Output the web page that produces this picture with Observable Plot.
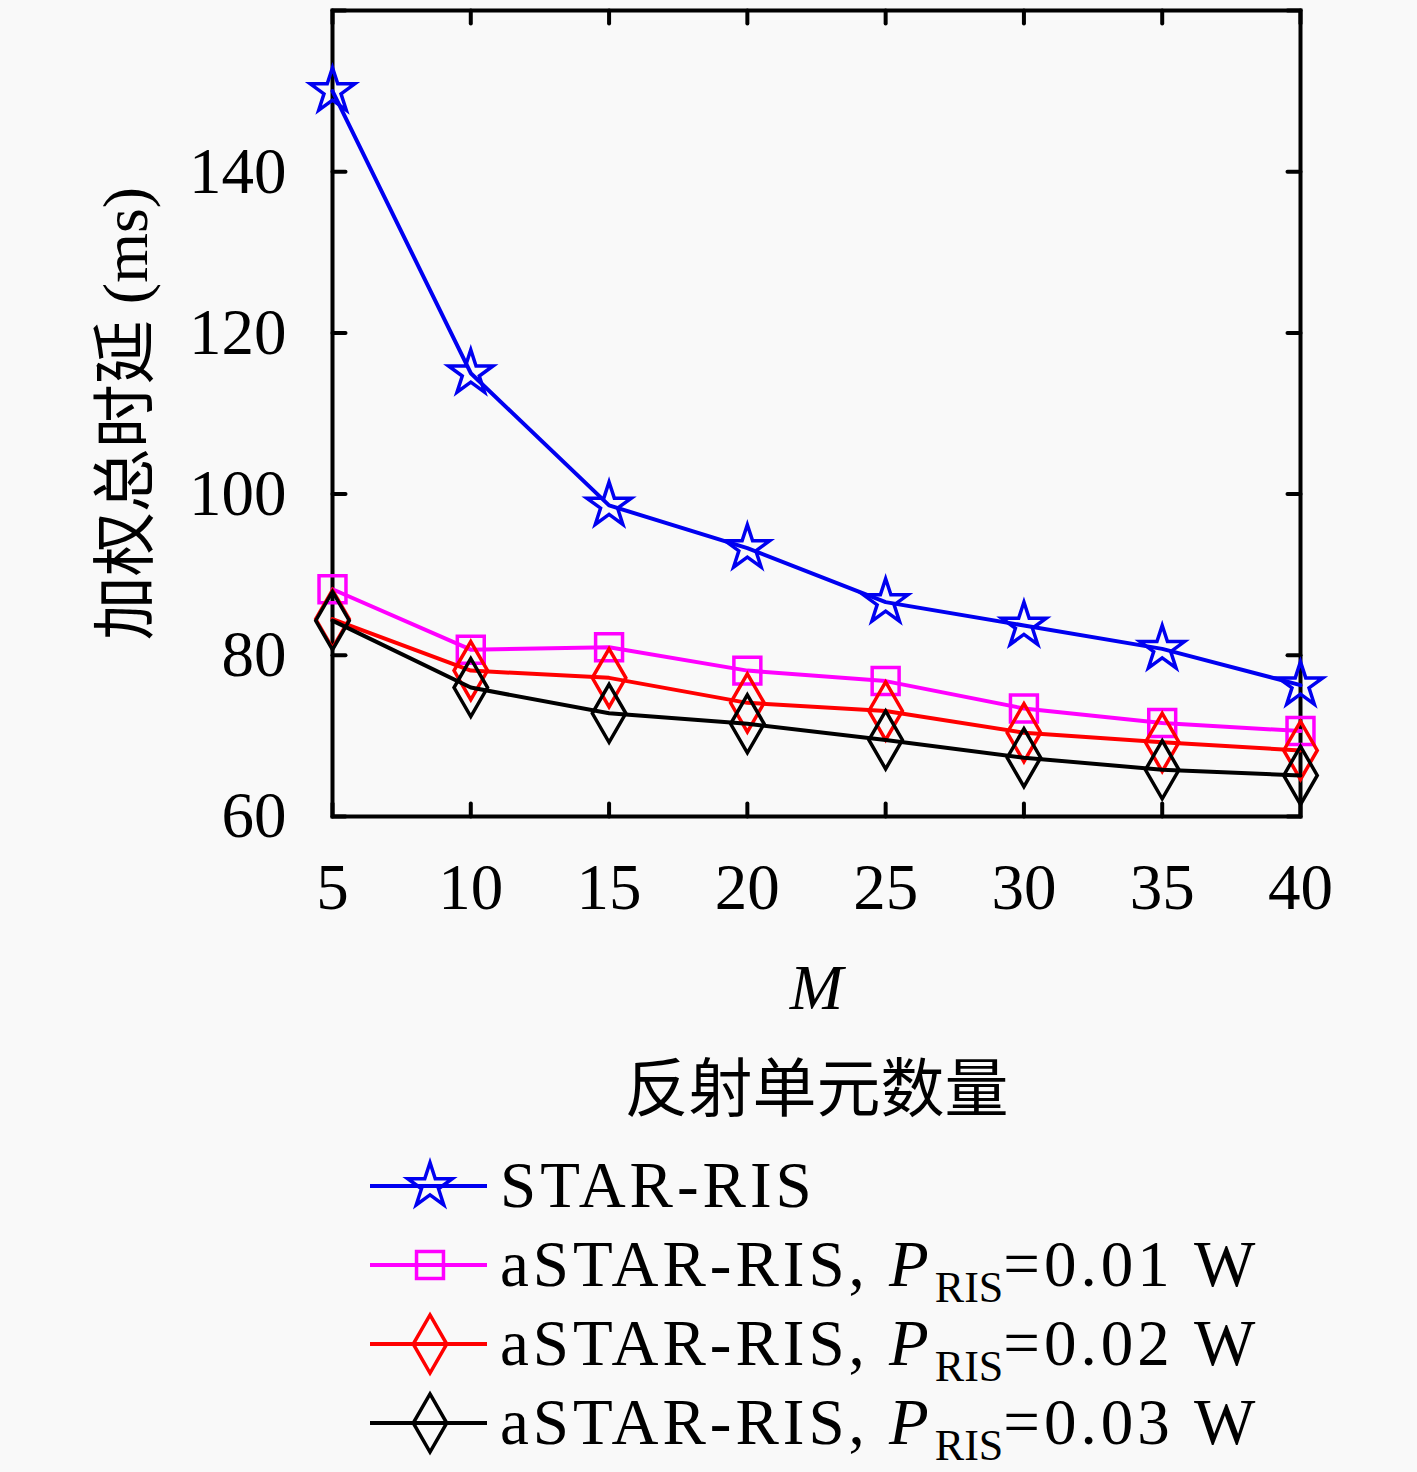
<!DOCTYPE html>
<html><head><meta charset="utf-8">
<script src="https://cdn.jsdelivr.net/npm/d3@7"></script>
<script src="https://cdn.jsdelivr.net/npm/@observablehq/plot@0.6"></script>
<style>
body{margin:0;background:#f9f9f9;}
#legend{font-family:"Liberation Serif",serif;font-size:65px;color:#000;padding-left:370px;margin-top:6px;letter-spacing:4px}
.row{display:flex;align-items:center;height:79px;white-space:nowrap}
.row svg{margin-right:13px;flex:none;overflow:visible}
.sub{font-size:44px;position:relative;top:16px;margin-left:2px;letter-spacing:0}
</style></head><body>
<div id="chart"></div><div id="legend"></div>
<script>
// ---- data ----
const M = [5, 10, 15, 20, 25, 30, 35, 40];
const starRIS  = [150, 115.0, 98.6, 93.3, 86.6, 83.7, 80.8, 76.3];
const aStar001 = [88.2, 80.7, 81.0, 78.1, 76.8, 73.4, 71.6, 70.6];
const aStar002 = [84.5, 78.1, 77.2, 74.1, 73.1, 70.4, 69.2, 68.2];
const aStar003 = [84.3, 76.0, 72.8, 71.5, 69.5, 67.3, 65.8, 65.1];
const seriesKeys = ["STAR-RIS", "P001", "P002", "P003"];
const seriesPower = [null, "0.01", "0.02", "0.03"];
const xTicks = [5, 10, 15, 20, 25, 30, 35, 40];
const yTicks = [60, 80, 100, 120, 140];
const yTickMarks = [60, 80, 100, 120, 140, 160];
const yLabel = "加权总时延 (ms)";
const xLabel = "M";
const xLabelCN = "反射单元数量";

// ---- styles ----
const colors = ["#0000f0", "#ff00ff", "#ff0000", "#000000"];
const symbols = ["star", "square", "diamond", "diamond"];
const radii = [14, 15.2, 17.6, 17.6];
const values = [starRIS, aStar001, aStar002, aStar003];

const W = 1417, H = 1140;
const mL = 332, mR = 117, mT = 10, plotBottom = 816;

const rows = [];
values.forEach((vals, s) => vals.forEach((v, i) => rows.push({series: s, M: M[i], v})));

const tickShape = {draw(context, l) { context.moveTo(0, 0); context.lineTo(0, -l); }};
const tickOpts = {length: 13, anchor: "start", shape: tickShape, stroke: "black", strokeWidth: 4};

const marks = [
  Plot.vector(yTickMarks, {...tickOpts, x: 5, y: d => d, rotate: 90}),
  Plot.vector(yTickMarks, {...tickOpts, x: 40, y: d => d, rotate: -90}),
  Plot.vector(xTicks, {...tickOpts, x: d => d, y: 60, rotate: 0}),
  Plot.vector(xTicks, {...tickOpts, x: d => d, y: 160, rotate: 180}),
  Plot.frame({stroke: "black", strokeWidth: 4}),
  Plot.axisY({ticks: yTicks, tickSize: 0, tickPadding: 46, fontSize: 65, label: null, fontFamily: "Liberation Serif"}),
  Plot.axisX({ticks: xTicks, tickSize: 0, tickPadding: 46, fontSize: 65, label: null, fontFamily: "Liberation Serif"}),
  Plot.text([xLabel], {frameAnchor: "bottom", lineAnchor: "middle", textAnchor: "middle", dy: 172, fontSize: 64, fontStyle: "italic", fontFamily: "Liberation Serif", text: d => d}),
  Plot.text([xLabelCN], {frameAnchor: "bottom", lineAnchor: "middle", textAnchor: "middle", dy: 274, fontSize: 64, fontFamily: "Noto Sans CJK SC", text: d => d}),
  Plot.text([yLabel], {frameAnchor: "left", lineAnchor: "middle", textAnchor: "middle", dx: -206, rotate: -90, fontSize: 64, fontFamily: "Liberation Serif, Noto Sans CJK SC", text: d => d})
];
values.forEach((vals, s) => {
  const data = rows.filter(r => r.series === s);
  marks.push(Plot.line(data, {x: "M", y: "v", stroke: colors[s], strokeWidth: 4}));
  marks.push(Plot.dot(data, {x: "M", y: "v", symbol: symbols[s], r: radii[s], stroke: colors[s], strokeWidth: 3.5, fill: "none"}));
});

const chart = Plot.plot({
  width: W, height: H,
  marginLeft: mL, marginRight: mR, marginTop: mT, marginBottom: H - plotBottom,
  x: {domain: [5, 40]},
  y: {domain: [60, 160]},
  style: {background: "#f9f9f9", color: "black", fontFamily: "Liberation Serif"},
  marks
});
document.getElementById("chart").appendChild(chart);

// ---- legend ----
const legend = d3.select("#legend");
const symMap = {star: d3.symbolStar, square: d3.symbolSquare, diamond: d3.symbolDiamond};
seriesKeys.forEach((k, s) => {
  const row = legend.append("div").attr("class", "row");
  const svg = row.append("svg").attr("width", 117).attr("height", 70);
  svg.append("line").attr("x1", 0).attr("x2", 117).attr("y1", 35).attr("y2", 35)
    .attr("stroke", colors[s]).attr("stroke-width", 4);
  svg.append("path").attr("transform", "translate(60,35)")
    .attr("d", d3.symbol(symMap[symbols[s]], Math.PI * radii[s] * radii[s])())
    .attr("fill", "none").attr("stroke", colors[s]).attr("stroke-width", 3.5);
  const t = row.append("span");
  if (seriesPower[s] === null) {
    t.text("STAR-RIS");
  } else {
    t.append("span").text("aSTAR-RIS,\u00a0");
    t.append("i").text("P");
    t.append("span").attr("class", "sub").text("RIS");
    t.append("span").text("=" + seriesPower[s] + "\u00a0W");
  }
});
</script>
</body></html>
